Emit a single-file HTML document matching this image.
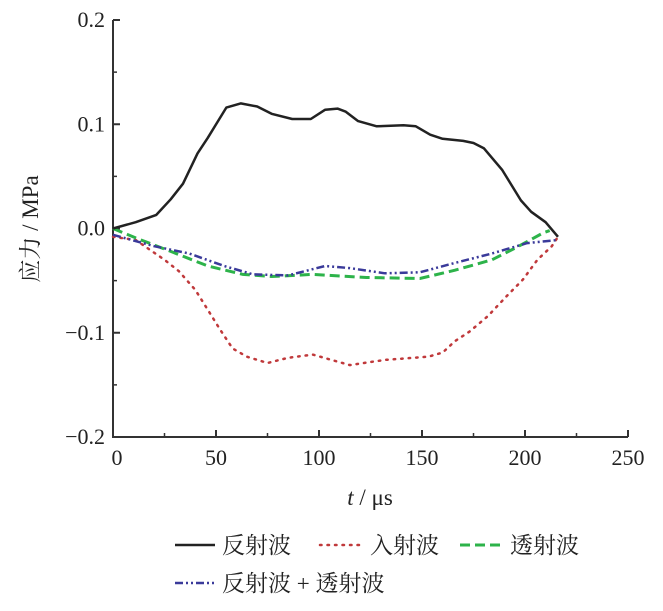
<!DOCTYPE html>
<html><head><meta charset="utf-8"><style>
body{margin:0;background:#fff;}
svg text{font-family:"Liberation Serif","Noto Serif CJK SC",serif;fill:#222;}
</style></head><body>
<svg id="chart" width="663" height="606" viewBox="0 0 663 606" xmlns="http://www.w3.org/2000/svg">
<g id="axes"></g>
<g id="series"></g>
<text transform="translate(38,229) rotate(-90)" text-anchor="middle" font-size="23">应力 / MPa</text>
<text x="370" y="505" text-anchor="middle" font-size="23"><tspan font-style="italic">t</tspan> / μs</text>
<g font-size="23">
<line x1="175" y1="545" x2="215" y2="545" stroke="#222" stroke-width="2.5"/>
<text x="222" y="553">反射波</text>
<line x1="320" y1="545" x2="362" y2="545" stroke="#c0393b" stroke-width="2.5" stroke-dasharray="1.5,6" stroke-linecap="round"/>
<text x="370" y="553">入射波</text>
<line x1="460" y1="545" x2="502" y2="545" stroke="#2db34a" stroke-width="3" stroke-dasharray="10,5"/>
<text x="510" y="553">透射波</text>
<line x1="175" y1="583" x2="215" y2="583" stroke="#3a3a9a" stroke-width="2.5" stroke-dasharray="8,3,2,3,2,3"/>
<text x="222" y="591">反射波 + 透射波</text>
</g>
</svg>
<script>
const xTicks=[0,50,100,150,200,250];
const yTicks=[0.2,0.1,0.0,-0.1,-0.2];
const yTickLabels=["0.2","0.1","0.0","\u22120.1","\u22120.2"];
const reflT=[0,11,21,28,34,41,46,55,62,70,77,87,96,103,109,113,119,128,141,147,154,160,170,175,180,189,198,203,210,216];
const reflV=[0,0.006,0.013,0.028,0.043,0.072,0.087,0.116,0.120,0.117,0.110,0.105,0.105,0.114,0.115,0.112,0.103,0.098,0.099,0.098,0.090,0.086,0.084,0.082,0.077,0.056,0.027,0.016,0.006,-0.008];
const incT=[0,11,25,32,40,46,52,58,65,75,85,97,106,115,132,153,160,166,173,182,191,199,206,213,216];
const incV=[-0.008,-0.011,-0.030,-0.041,-0.059,-0.078,-0.097,-0.115,-0.123,-0.129,-0.124,-0.121,-0.126,-0.131,-0.126,-0.123,-0.119,-0.108,-0.099,-0.084,-0.065,-0.049,-0.030,-0.017,-0.008];
const traT=[0,11,28,46,63,77,97,123,149,166,184,197,209,212];
const traV=[0,-0.009,-0.022,-0.036,-0.044,-0.046,-0.044,-0.047,-0.048,-0.040,-0.030,-0.017,-0.004,-0.002];
const sumT=[0,20,37,54,68,85,103,115,132,149,166,184,201,216];
const sumV=[-0.006,-0.017,-0.024,-0.036,-0.044,-0.045,-0.036,-0.038,-0.043,-0.042,-0.033,-0.024,-0.014,-0.011];
const X0=113,X1=628,Y0=20,Y1=437;
const xs=t=>X0+(t-0)/(250)*(X1-X0);
const ys=v=>Y1-(v+0.2)/0.4*(Y1-Y0);
const NS="http://www.w3.org/2000/svg";
const axes=document.getElementById('axes'),series=document.getElementById('series');
function mk(tag,attrs,parent){const e=document.createElementNS(NS,tag);for(const k in attrs)e.setAttribute(k,attrs[k]);parent.appendChild(e);return e;}
let a=mk('path',{d:`M${X0},${Y0}V${Y1}H${X1}`,fill:'none',stroke:'#333','stroke-width':2},axes);


xTicks.forEach((t,i)=>{
 let l=mk('line',{x1:xs(t),x2:xs(t),y1:Y1,y2:Y1-7,stroke:'#333','stroke-width':2},axes);
 
 
 if(i<xTicks.length-1){let m=mk('line',{x1:xs(t+25),x2:xs(t+25),y1:Y1,y2:Y1-4,stroke:'#333','stroke-width':1.5},axes);
 
 }
 let tx=mk('text',{x:xs(t)+(t===0?4:0),y:Y1+28,'text-anchor':'middle','font-size':22},axes);tx.textContent=t;
 
 
});
yTicks.forEach((v,i)=>{
 let l=mk('line',{x1:X0,x2:X0+7,y1:ys(v),y2:ys(v),stroke:'#333','stroke-width':2},axes);
 
 
 if(i<yTicks.length-1){let m=mk('line',{x1:X0,x2:X0+4,y1:ys(v-0.05),y2:ys(v-0.05),stroke:'#333','stroke-width':1.5},axes);
 
 }
 let tx=mk('text',{x:X0-8,y:ys(v)+7,'text-anchor':'end','font-size':22},axes);tx.textContent=yTickLabels[i];
 
 
});
function line(T,V,style,name){
 const d=T.map((t,i)=>(i?'L':'M')+xs(t).toFixed(1)+','+ys(V[i]).toFixed(1)).join('');
 let p=mk('path',Object.assign({d:d,fill:'none'},style),series);
 
 
}
line(incT,incV,{stroke:'#c0393b','stroke-width':2.5,'stroke-dasharray':'1.5,6','stroke-linecap':'round'},'incident-wave-line');
line(traT,traV,{stroke:'#2db34a','stroke-width':3,'stroke-dasharray':'10,5'},'transmitted-wave-line');
line(sumT,sumV,{stroke:'#3a3a9a','stroke-width':2.5,'stroke-dasharray':'8,3,2,3,2,3'},'sum-wave-line');
line(reflT,reflV,{stroke:'#222','stroke-width':2.5,'stroke-linejoin':'round'},'reflected-wave-line');
</script>
</body></html>
